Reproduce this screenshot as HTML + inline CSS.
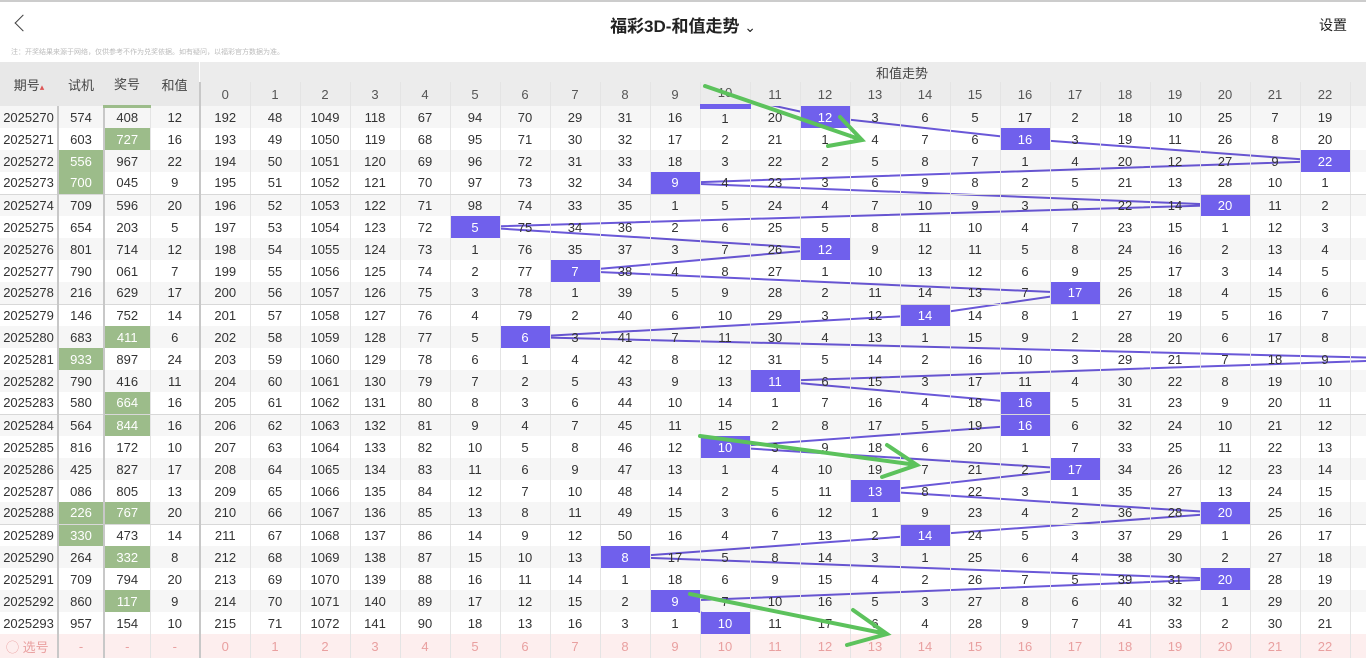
<!DOCTYPE html>
<html><head><meta charset="utf-8"><style>
*{margin:0;padding:0;box-sizing:border-box}
body{width:1366px;height:658px;overflow:hidden;background:#fff;font-family:"Liberation Sans","Noto Sans CJK SC",sans-serif;position:relative;color:#333}
.top{position:absolute;left:0;top:0;width:1366px;height:2px;background:#ccc}
.back{position:absolute;left:17px;top:17px;width:12px;height:12px;border-left:1.5px solid #444;border-bottom:1.5px solid #444;transform:rotate(45deg)}
.title{position:absolute;left:0;width:1366px;top:12px;text-align:center;font-size:17px;font-weight:bold;color:#222}
.set{position:absolute;left:1319px;top:15px;font-size:14px;color:#222}
.note{position:absolute;left:11px;top:47px;font-size:7px;color:#bbb}
table{position:absolute;left:0;top:62px;border-collapse:collapse;table-layout:fixed;width:1400px;z-index:2}
td{height:22px;text-align:center;font-size:13px;border-left:1px solid #e4e4e4;padding:0;white-space:nowrap;overflow:hidden;background:transparent}
tr.hd1 td{height:20px;background:#ececec;border-left:none}
tr.hd2 td{height:24px;background:#ececec;color:#555}
tr:nth-child(2n+3) td{background:rgba(0,0,0,0.035)}
td.s1{border-left:none}
td.b2{border-left:2px solid #c8c8c8}
td.g{background:#9cbc8a!important;color:#fff}
td.h{background:#7060ec!important;color:#fff}
tr.sep td{border-bottom:1px solid #d8d8d8}
tr.bt td{background:#fdeeee!important;color:#e9a0a0;height:24px}
</style></head><body>
<div class="top"></div>
<div class="back"></div>
<div class="title">福彩3D-和值走势 <span style="font-weight:normal;font-size:14px">⌄</span></div>
<div class="set">设置</div>
<div class="note">注：开奖结果来源于网络，仅供参考不作为兑奖依据。如有疑问，以福彩官方数据为准。</div>
<svg width="1366" height="658" style="position:absolute;left:0;top:0;z-index:1">
<polyline fill="none" stroke="#6a58d8" stroke-width="2" points="725,95 825,117 1025,139 1325,161 675,183 1225,205 475,227 825,249 575,271 1075,293 925,315 525,337 1425,359 775,381 1025,403 1025,425 725,447 1075,469 875,491 1225,513 925,535 625,557 1225,579 675,601 725,623"/>
</svg>
<table>
<colgroup><col style="width:58px"><col style="width:46px"><col style="width:46px"><col style="width:50px"><col span="24" style="width:50px"></colgroup>
<tr class="hd1"><td class="s1" rowspan="2" style="background:#e8e8e8;color:#444">期号<span style="color:#d55;font-size:9px">▴</span></td><td rowspan="2" class="b2" style="background:#e8e8e8;color:#444">试机</td><td rowspan="2" class="b2" style="background:#e8e8e8;color:#444;border-bottom:3px solid #9cbc8a">奖号</td><td rowspan="2" style="background:#e8e8e8;color:#444">和值</td><td colspan="24" class="b2" style="text-align:left;padding-left:676px;color:#444">和值走势</td></tr>
<tr class="hd2"><td class="b2">0</td><td>1</td><td>2</td><td>3</td><td>4</td><td>5</td><td>6</td><td>7</td><td>8</td><td>9</td><td style="border-bottom:5px solid #7060ec">10</td><td>11</td><td>12</td><td>13</td><td>14</td><td>15</td><td>16</td><td>17</td><td>18</td><td>19</td><td>20</td><td>21</td><td>22</td><td>23</td></tr>
<tr><td class="s1">2025270</td><td class="b2">574</td><td class="b2">408</td><td>12</td><td class="b2">192</td><td>48</td><td>1049</td><td>118</td><td>67</td><td>94</td><td>70</td><td>29</td><td>31</td><td>16</td><td>1</td><td>20</td><td class="h">12</td><td>3</td><td>6</td><td>5</td><td>17</td><td>2</td><td>18</td><td>10</td><td>25</td><td>7</td><td>19</td><td>1</td></tr>
<tr><td class="s1">2025271</td><td class="b2">603</td><td class="b2 g">727</td><td>16</td><td class="b2">193</td><td>49</td><td>1050</td><td>119</td><td>68</td><td>95</td><td>71</td><td>30</td><td>32</td><td>17</td><td>2</td><td>21</td><td>1</td><td>4</td><td>7</td><td>6</td><td class="h">16</td><td>3</td><td>19</td><td>11</td><td>26</td><td>8</td><td>20</td><td>1</td></tr>
<tr><td class="s1">2025272</td><td class="b2 g">556</td><td class="b2">967</td><td>22</td><td class="b2">194</td><td>50</td><td>1051</td><td>120</td><td>69</td><td>96</td><td>72</td><td>31</td><td>33</td><td>18</td><td>3</td><td>22</td><td>2</td><td>5</td><td>8</td><td>7</td><td>1</td><td>4</td><td>20</td><td>12</td><td>27</td><td>9</td><td class="h">22</td><td>1</td></tr>
<tr class="sep"><td class="s1">2025273</td><td class="b2 g">700</td><td class="b2">045</td><td>9</td><td class="b2">195</td><td>51</td><td>1052</td><td>121</td><td>70</td><td>97</td><td>73</td><td>32</td><td>34</td><td class="h">9</td><td>4</td><td>23</td><td>3</td><td>6</td><td>9</td><td>8</td><td>2</td><td>5</td><td>21</td><td>13</td><td>28</td><td>10</td><td>1</td><td>1</td></tr>
<tr><td class="s1">2025274</td><td class="b2">709</td><td class="b2">596</td><td>20</td><td class="b2">196</td><td>52</td><td>1053</td><td>122</td><td>71</td><td>98</td><td>74</td><td>33</td><td>35</td><td>1</td><td>5</td><td>24</td><td>4</td><td>7</td><td>10</td><td>9</td><td>3</td><td>6</td><td>22</td><td>14</td><td class="h">20</td><td>11</td><td>2</td><td>1</td></tr>
<tr><td class="s1">2025275</td><td class="b2">654</td><td class="b2">203</td><td>5</td><td class="b2">197</td><td>53</td><td>1054</td><td>123</td><td>72</td><td class="h">5</td><td>75</td><td>34</td><td>36</td><td>2</td><td>6</td><td>25</td><td>5</td><td>8</td><td>11</td><td>10</td><td>4</td><td>7</td><td>23</td><td>15</td><td>1</td><td>12</td><td>3</td><td>1</td></tr>
<tr><td class="s1">2025276</td><td class="b2">801</td><td class="b2">714</td><td>12</td><td class="b2">198</td><td>54</td><td>1055</td><td>124</td><td>73</td><td>1</td><td>76</td><td>35</td><td>37</td><td>3</td><td>7</td><td>26</td><td class="h">12</td><td>9</td><td>12</td><td>11</td><td>5</td><td>8</td><td>24</td><td>16</td><td>2</td><td>13</td><td>4</td><td>1</td></tr>
<tr><td class="s1">2025277</td><td class="b2">790</td><td class="b2">061</td><td>7</td><td class="b2">199</td><td>55</td><td>1056</td><td>125</td><td>74</td><td>2</td><td>77</td><td class="h">7</td><td>38</td><td>4</td><td>8</td><td>27</td><td>1</td><td>10</td><td>13</td><td>12</td><td>6</td><td>9</td><td>25</td><td>17</td><td>3</td><td>14</td><td>5</td><td>1</td></tr>
<tr class="sep"><td class="s1">2025278</td><td class="b2">216</td><td class="b2">629</td><td>17</td><td class="b2">200</td><td>56</td><td>1057</td><td>126</td><td>75</td><td>3</td><td>78</td><td>1</td><td>39</td><td>5</td><td>9</td><td>28</td><td>2</td><td>11</td><td>14</td><td>13</td><td>7</td><td class="h">17</td><td>26</td><td>18</td><td>4</td><td>15</td><td>6</td><td>1</td></tr>
<tr><td class="s1">2025279</td><td class="b2">146</td><td class="b2">752</td><td>14</td><td class="b2">201</td><td>57</td><td>1058</td><td>127</td><td>76</td><td>4</td><td>79</td><td>2</td><td>40</td><td>6</td><td>10</td><td>29</td><td>3</td><td>12</td><td class="h">14</td><td>14</td><td>8</td><td>1</td><td>27</td><td>19</td><td>5</td><td>16</td><td>7</td><td>1</td></tr>
<tr><td class="s1">2025280</td><td class="b2">683</td><td class="b2 g">411</td><td>6</td><td class="b2">202</td><td>58</td><td>1059</td><td>128</td><td>77</td><td>5</td><td class="h">6</td><td>3</td><td>41</td><td>7</td><td>11</td><td>30</td><td>4</td><td>13</td><td>1</td><td>15</td><td>9</td><td>2</td><td>28</td><td>20</td><td>6</td><td>17</td><td>8</td><td>1</td></tr>
<tr><td class="s1">2025281</td><td class="b2 g">933</td><td class="b2">897</td><td>24</td><td class="b2">203</td><td>59</td><td>1060</td><td>129</td><td>78</td><td>6</td><td>1</td><td>4</td><td>42</td><td>8</td><td>12</td><td>31</td><td>5</td><td>14</td><td>2</td><td>16</td><td>10</td><td>3</td><td>29</td><td>21</td><td>7</td><td>18</td><td>9</td><td>1</td></tr>
<tr><td class="s1">2025282</td><td class="b2">790</td><td class="b2">416</td><td>11</td><td class="b2">204</td><td>60</td><td>1061</td><td>130</td><td>79</td><td>7</td><td>2</td><td>5</td><td>43</td><td>9</td><td>13</td><td class="h">11</td><td>6</td><td>15</td><td>3</td><td>17</td><td>11</td><td>4</td><td>30</td><td>22</td><td>8</td><td>19</td><td>10</td><td>1</td></tr>
<tr class="sep"><td class="s1">2025283</td><td class="b2">580</td><td class="b2 g">664</td><td>16</td><td class="b2">205</td><td>61</td><td>1062</td><td>131</td><td>80</td><td>8</td><td>3</td><td>6</td><td>44</td><td>10</td><td>14</td><td>1</td><td>7</td><td>16</td><td>4</td><td>18</td><td class="h">16</td><td>5</td><td>31</td><td>23</td><td>9</td><td>20</td><td>11</td><td>1</td></tr>
<tr><td class="s1">2025284</td><td class="b2">564</td><td class="b2 g">844</td><td>16</td><td class="b2">206</td><td>62</td><td>1063</td><td>132</td><td>81</td><td>9</td><td>4</td><td>7</td><td>45</td><td>11</td><td>15</td><td>2</td><td>8</td><td>17</td><td>5</td><td>19</td><td class="h">16</td><td>6</td><td>32</td><td>24</td><td>10</td><td>21</td><td>12</td><td>1</td></tr>
<tr><td class="s1">2025285</td><td class="b2">816</td><td class="b2">172</td><td>10</td><td class="b2">207</td><td>63</td><td>1064</td><td>133</td><td>82</td><td>10</td><td>5</td><td>8</td><td>46</td><td>12</td><td class="h">10</td><td>3</td><td>9</td><td>18</td><td>6</td><td>20</td><td>1</td><td>7</td><td>33</td><td>25</td><td>11</td><td>22</td><td>13</td><td>1</td></tr>
<tr><td class="s1">2025286</td><td class="b2">425</td><td class="b2">827</td><td>17</td><td class="b2">208</td><td>64</td><td>1065</td><td>134</td><td>83</td><td>11</td><td>6</td><td>9</td><td>47</td><td>13</td><td>1</td><td>4</td><td>10</td><td>19</td><td>7</td><td>21</td><td>2</td><td class="h">17</td><td>34</td><td>26</td><td>12</td><td>23</td><td>14</td><td>1</td></tr>
<tr><td class="s1">2025287</td><td class="b2">086</td><td class="b2">805</td><td>13</td><td class="b2">209</td><td>65</td><td>1066</td><td>135</td><td>84</td><td>12</td><td>7</td><td>10</td><td>48</td><td>14</td><td>2</td><td>5</td><td>11</td><td class="h">13</td><td>8</td><td>22</td><td>3</td><td>1</td><td>35</td><td>27</td><td>13</td><td>24</td><td>15</td><td>1</td></tr>
<tr class="sep"><td class="s1">2025288</td><td class="b2 g">226</td><td class="b2 g">767</td><td>20</td><td class="b2">210</td><td>66</td><td>1067</td><td>136</td><td>85</td><td>13</td><td>8</td><td>11</td><td>49</td><td>15</td><td>3</td><td>6</td><td>12</td><td>1</td><td>9</td><td>23</td><td>4</td><td>2</td><td>36</td><td>28</td><td class="h">20</td><td>25</td><td>16</td><td>1</td></tr>
<tr><td class="s1">2025289</td><td class="b2 g">330</td><td class="b2">473</td><td>14</td><td class="b2">211</td><td>67</td><td>1068</td><td>137</td><td>86</td><td>14</td><td>9</td><td>12</td><td>50</td><td>16</td><td>4</td><td>7</td><td>13</td><td>2</td><td class="h">14</td><td>24</td><td>5</td><td>3</td><td>37</td><td>29</td><td>1</td><td>26</td><td>17</td><td>1</td></tr>
<tr><td class="s1">2025290</td><td class="b2">264</td><td class="b2 g">332</td><td>8</td><td class="b2">212</td><td>68</td><td>1069</td><td>138</td><td>87</td><td>15</td><td>10</td><td>13</td><td class="h">8</td><td>17</td><td>5</td><td>8</td><td>14</td><td>3</td><td>1</td><td>25</td><td>6</td><td>4</td><td>38</td><td>30</td><td>2</td><td>27</td><td>18</td><td>1</td></tr>
<tr><td class="s1">2025291</td><td class="b2">709</td><td class="b2">794</td><td>20</td><td class="b2">213</td><td>69</td><td>1070</td><td>139</td><td>88</td><td>16</td><td>11</td><td>14</td><td>1</td><td>18</td><td>6</td><td>9</td><td>15</td><td>4</td><td>2</td><td>26</td><td>7</td><td>5</td><td>39</td><td>31</td><td class="h">20</td><td>28</td><td>19</td><td>1</td></tr>
<tr><td class="s1">2025292</td><td class="b2">860</td><td class="b2 g">117</td><td>9</td><td class="b2">214</td><td>70</td><td>1071</td><td>140</td><td>89</td><td>17</td><td>12</td><td>15</td><td>2</td><td class="h">9</td><td>7</td><td>10</td><td>16</td><td>5</td><td>3</td><td>27</td><td>8</td><td>6</td><td>40</td><td>32</td><td>1</td><td>29</td><td>20</td><td>1</td></tr>
<tr><td class="s1">2025293</td><td class="b2">957</td><td class="b2">154</td><td>10</td><td class="b2">215</td><td>71</td><td>1072</td><td>141</td><td>90</td><td>18</td><td>13</td><td>16</td><td>3</td><td>1</td><td class="h">10</td><td>11</td><td>17</td><td>6</td><td>4</td><td>28</td><td>9</td><td>7</td><td>41</td><td>33</td><td>2</td><td>30</td><td>21</td><td>1</td></tr>
<tr class="bt"><td class="s1" style="text-align:left;padding-left:6px">◯ 选号</td><td class="b2">-</td><td class="b2">-</td><td>-</td><td class="b2">0</td><td>1</td><td>2</td><td>3</td><td>4</td><td>5</td><td>6</td><td>7</td><td>8</td><td>9</td><td>10</td><td>11</td><td>12</td><td>13</td><td>14</td><td>15</td><td>16</td><td>17</td><td>18</td><td>19</td><td>20</td><td>21</td><td>22</td><td>23</td></tr>
</table>
<svg width="1366" height="658" style="position:absolute;left:0;top:0;z-index:3">
<g stroke="#5cc25c" stroke-width="4" stroke-linecap="round" fill="none">
<path d="M705,86 L862,140 M828,146 L862,140 L840,117"/>
<path d="M700,436 L917,465 M887,445 L917,465 L882,477"/>
<path d="M690,594 L887,634 M853,610 L887,634 L847,645"/>
</g>
</svg>
</body></html>
